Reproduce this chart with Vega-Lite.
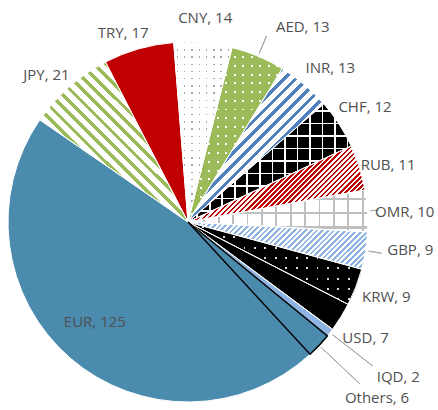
{
"$schema":"https://vega.github.io/schema/vega-lite/v6.json",
"width":360,"height":360,
"autosize":{"type":"none"},
"padding":{"left":8,"top":42,"right":70,"bottom":8},
"background":"white",
"config":{"view":{"stroke":null}},
"data":{"values":[
{"currency":"EUR","value":125},{"currency":"JPY","value":21},{"currency":"TRY","value":17},{"currency":"CNY","value":14},{"currency":"AED","value":13},{"currency":"INR","value":13},{"currency":"CHF","value":12},{"currency":"RUB","value":11},{"currency":"OMR","value":10},{"currency":"GBP","value":9},{"currency":"KRW","value":9},{"currency":"USD","value":7},{"currency":"IQD","value":2},{"currency":"Others","value":6}
]},
"transform":[{"window":[{"op":"row_number","as":"idx"}]}],
"encoding":{
"theta":{"field":"value","type":"quantitative","stack":true,"scale":{"range":[2.3964,8.6796]}},
"order":{"field":"idx","type":"quantitative"},
"detail":{"field":"currency","type":"nominal"}
},
"layer":[
{"mark":{"type":"arc","radius":180,"strokeWidth":0},
"encoding":{"fill":{"condition":[
{"test":"datum.currency==='JPY'","value":{"gradient":"linear","x1":0,"y1":1,"x2":0.96,"y2":-0.037,"stops":[
{"offset":0,"color":"#9BBB59"},{"offset":0.016,"color":"#9BBB59"},{"offset":0.016,"color":"#FFFFFF"},{"offset":0.04,"color":"#FFFFFF"},
{"offset":0.04,"color":"#9BBB59"},{"offset":0.056,"color":"#9BBB59"},{"offset":0.056,"color":"#FFFFFF"},{"offset":0.08,"color":"#FFFFFF"},
{"offset":0.08,"color":"#9BBB59"},{"offset":0.096,"color":"#9BBB59"},{"offset":0.096,"color":"#FFFFFF"},{"offset":0.12,"color":"#FFFFFF"},
{"offset":0.12,"color":"#9BBB59"},{"offset":0.136,"color":"#9BBB59"},{"offset":0.136,"color":"#FFFFFF"},{"offset":0.16,"color":"#FFFFFF"},
{"offset":0.16,"color":"#9BBB59"},{"offset":0.176,"color":"#9BBB59"},{"offset":0.176,"color":"#FFFFFF"},{"offset":0.2,"color":"#FFFFFF"},
{"offset":0.2,"color":"#9BBB59"},{"offset":0.216,"color":"#9BBB59"},{"offset":0.216,"color":"#FFFFFF"},{"offset":0.24,"color":"#FFFFFF"},
{"offset":0.24,"color":"#9BBB59"},{"offset":0.256,"color":"#9BBB59"},{"offset":0.256,"color":"#FFFFFF"},{"offset":0.28,"color":"#FFFFFF"},
{"offset":0.28,"color":"#9BBB59"},{"offset":0.296,"color":"#9BBB59"},{"offset":0.296,"color":"#FFFFFF"},{"offset":0.32,"color":"#FFFFFF"},
{"offset":0.32,"color":"#9BBB59"},{"offset":0.336,"color":"#9BBB59"},{"offset":0.336,"color":"#FFFFFF"},{"offset":0.36,"color":"#FFFFFF"},
{"offset":0.36,"color":"#9BBB59"},{"offset":0.376,"color":"#9BBB59"},{"offset":0.376,"color":"#FFFFFF"},{"offset":0.4,"color":"#FFFFFF"},
{"offset":0.4,"color":"#9BBB59"},{"offset":0.416,"color":"#9BBB59"},{"offset":0.416,"color":"#FFFFFF"},{"offset":0.44,"color":"#FFFFFF"},
{"offset":0.44,"color":"#9BBB59"},{"offset":0.456,"color":"#9BBB59"},{"offset":0.456,"color":"#FFFFFF"},{"offset":0.48,"color":"#FFFFFF"},
{"offset":0.48,"color":"#9BBB59"},{"offset":0.496,"color":"#9BBB59"},{"offset":0.496,"color":"#FFFFFF"},{"offset":0.52,"color":"#FFFFFF"},
{"offset":0.52,"color":"#9BBB59"},{"offset":0.536,"color":"#9BBB59"},{"offset":0.536,"color":"#FFFFFF"},{"offset":0.56,"color":"#FFFFFF"},
{"offset":0.56,"color":"#9BBB59"},{"offset":0.576,"color":"#9BBB59"},{"offset":0.576,"color":"#FFFFFF"},{"offset":0.6,"color":"#FFFFFF"},
{"offset":0.6,"color":"#9BBB59"},{"offset":0.616,"color":"#9BBB59"},{"offset":0.616,"color":"#FFFFFF"},{"offset":0.64,"color":"#FFFFFF"},
{"offset":0.64,"color":"#9BBB59"},{"offset":0.656,"color":"#9BBB59"},{"offset":0.656,"color":"#FFFFFF"},{"offset":0.68,"color":"#FFFFFF"},
{"offset":0.68,"color":"#9BBB59"},{"offset":0.696,"color":"#9BBB59"},{"offset":0.696,"color":"#FFFFFF"},{"offset":0.72,"color":"#FFFFFF"},
{"offset":0.72,"color":"#9BBB59"},{"offset":0.736,"color":"#9BBB59"},{"offset":0.736,"color":"#FFFFFF"},{"offset":0.76,"color":"#FFFFFF"},
{"offset":0.76,"color":"#9BBB59"},{"offset":0.776,"color":"#9BBB59"},{"offset":0.776,"color":"#FFFFFF"},{"offset":0.8,"color":"#FFFFFF"},
{"offset":0.8,"color":"#9BBB59"},{"offset":0.816,"color":"#9BBB59"},{"offset":0.816,"color":"#FFFFFF"},{"offset":0.84,"color":"#FFFFFF"},
{"offset":0.84,"color":"#9BBB59"},{"offset":0.856,"color":"#9BBB59"},{"offset":0.856,"color":"#FFFFFF"},{"offset":0.88,"color":"#FFFFFF"},
{"offset":0.88,"color":"#9BBB59"},{"offset":0.896,"color":"#9BBB59"},{"offset":0.896,"color":"#FFFFFF"},{"offset":0.92,"color":"#FFFFFF"},
{"offset":0.92,"color":"#9BBB59"},{"offset":0.936,"color":"#9BBB59"},{"offset":0.936,"color":"#FFFFFF"},{"offset":0.96,"color":"#FFFFFF"},
{"offset":0.96,"color":"#9BBB59"},{"offset":0.976,"color":"#9BBB59"},{"offset":0.976,"color":"#FFFFFF"},{"offset":1,"color":"#FFFFFF"}
]}},
{"test":"datum.currency==='TRY'","value":"#C00000"},
{"test":"datum.currency==='CNY'","value":{"gradient":"linear","x1":0,"y1":0,"x2":0,"y2":1,"stops":[
{"offset":0,"color":"#A6A6A6"},{"offset":0.008,"color":"#A6A6A6"},{"offset":0.008,"color":"#FFFFFF"},{"offset":0.04,"color":"#FFFFFF"},
{"offset":0.04,"color":"#A6A6A6"},{"offset":0.048,"color":"#A6A6A6"},{"offset":0.048,"color":"#FFFFFF"},{"offset":0.08,"color":"#FFFFFF"},
{"offset":0.08,"color":"#A6A6A6"},{"offset":0.088,"color":"#A6A6A6"},{"offset":0.088,"color":"#FFFFFF"},{"offset":0.12,"color":"#FFFFFF"},
{"offset":0.12,"color":"#A6A6A6"},{"offset":0.128,"color":"#A6A6A6"},{"offset":0.128,"color":"#FFFFFF"},{"offset":0.16,"color":"#FFFFFF"},
{"offset":0.16,"color":"#A6A6A6"},{"offset":0.168,"color":"#A6A6A6"},{"offset":0.168,"color":"#FFFFFF"},{"offset":0.2,"color":"#FFFFFF"},
{"offset":0.2,"color":"#A6A6A6"},{"offset":0.208,"color":"#A6A6A6"},{"offset":0.208,"color":"#FFFFFF"},{"offset":0.24,"color":"#FFFFFF"},
{"offset":0.24,"color":"#A6A6A6"},{"offset":0.248,"color":"#A6A6A6"},{"offset":0.248,"color":"#FFFFFF"},{"offset":0.28,"color":"#FFFFFF"},
{"offset":0.28,"color":"#A6A6A6"},{"offset":0.288,"color":"#A6A6A6"},{"offset":0.288,"color":"#FFFFFF"},{"offset":0.32,"color":"#FFFFFF"},
{"offset":0.32,"color":"#A6A6A6"},{"offset":0.328,"color":"#A6A6A6"},{"offset":0.328,"color":"#FFFFFF"},{"offset":0.36,"color":"#FFFFFF"},
{"offset":0.36,"color":"#A6A6A6"},{"offset":0.368,"color":"#A6A6A6"},{"offset":0.368,"color":"#FFFFFF"},{"offset":0.4,"color":"#FFFFFF"},
{"offset":0.4,"color":"#A6A6A6"},{"offset":0.408,"color":"#A6A6A6"},{"offset":0.408,"color":"#FFFFFF"},{"offset":0.44,"color":"#FFFFFF"},
{"offset":0.44,"color":"#A6A6A6"},{"offset":0.448,"color":"#A6A6A6"},{"offset":0.448,"color":"#FFFFFF"},{"offset":0.48,"color":"#FFFFFF"},
{"offset":0.48,"color":"#A6A6A6"},{"offset":0.488,"color":"#A6A6A6"},{"offset":0.488,"color":"#FFFFFF"},{"offset":0.52,"color":"#FFFFFF"},
{"offset":0.52,"color":"#A6A6A6"},{"offset":0.528,"color":"#A6A6A6"},{"offset":0.528,"color":"#FFFFFF"},{"offset":0.56,"color":"#FFFFFF"},
{"offset":0.56,"color":"#A6A6A6"},{"offset":0.568,"color":"#A6A6A6"},{"offset":0.568,"color":"#FFFFFF"},{"offset":0.6,"color":"#FFFFFF"},
{"offset":0.6,"color":"#A6A6A6"},{"offset":0.608,"color":"#A6A6A6"},{"offset":0.608,"color":"#FFFFFF"},{"offset":0.64,"color":"#FFFFFF"},
{"offset":0.64,"color":"#A6A6A6"},{"offset":0.648,"color":"#A6A6A6"},{"offset":0.648,"color":"#FFFFFF"},{"offset":0.68,"color":"#FFFFFF"},
{"offset":0.68,"color":"#A6A6A6"},{"offset":0.688,"color":"#A6A6A6"},{"offset":0.688,"color":"#FFFFFF"},{"offset":0.72,"color":"#FFFFFF"},
{"offset":0.72,"color":"#A6A6A6"},{"offset":0.728,"color":"#A6A6A6"},{"offset":0.728,"color":"#FFFFFF"},{"offset":0.76,"color":"#FFFFFF"},
{"offset":0.76,"color":"#A6A6A6"},{"offset":0.768,"color":"#A6A6A6"},{"offset":0.768,"color":"#FFFFFF"},{"offset":0.8,"color":"#FFFFFF"},
{"offset":0.8,"color":"#A6A6A6"},{"offset":0.808,"color":"#A6A6A6"},{"offset":0.808,"color":"#FFFFFF"},{"offset":0.84,"color":"#FFFFFF"},
{"offset":0.84,"color":"#A6A6A6"},{"offset":0.848,"color":"#A6A6A6"},{"offset":0.848,"color":"#FFFFFF"},{"offset":0.88,"color":"#FFFFFF"},
{"offset":0.88,"color":"#A6A6A6"},{"offset":0.888,"color":"#A6A6A6"},{"offset":0.888,"color":"#FFFFFF"},{"offset":0.92,"color":"#FFFFFF"},
{"offset":0.92,"color":"#A6A6A6"},{"offset":0.928,"color":"#A6A6A6"},{"offset":0.928,"color":"#FFFFFF"},{"offset":0.96,"color":"#FFFFFF"},
{"offset":0.96,"color":"#A6A6A6"},{"offset":0.968,"color":"#A6A6A6"},{"offset":0.968,"color":"#FFFFFF"},{"offset":1,"color":"#FFFFFF"}
]}},
{"test":"datum.currency==='AED'","value":{"gradient":"linear","x1":0,"y1":0,"x2":0,"y2":1,"stops":[
{"offset":0,"color":"#FFFFFF"},{"offset":0.011,"color":"#FFFFFF"},{"offset":0.011,"color":"#9BBB59"},{"offset":0.05,"color":"#9BBB59"},
{"offset":0.05,"color":"#FFFFFF"},{"offset":0.061,"color":"#FFFFFF"},{"offset":0.061,"color":"#9BBB59"},{"offset":0.1,"color":"#9BBB59"},
{"offset":0.1,"color":"#FFFFFF"},{"offset":0.111,"color":"#FFFFFF"},{"offset":0.111,"color":"#9BBB59"},{"offset":0.15,"color":"#9BBB59"},
{"offset":0.15,"color":"#FFFFFF"},{"offset":0.161,"color":"#FFFFFF"},{"offset":0.161,"color":"#9BBB59"},{"offset":0.2,"color":"#9BBB59"},
{"offset":0.2,"color":"#FFFFFF"},{"offset":0.211,"color":"#FFFFFF"},{"offset":0.211,"color":"#9BBB59"},{"offset":0.25,"color":"#9BBB59"},
{"offset":0.25,"color":"#FFFFFF"},{"offset":0.261,"color":"#FFFFFF"},{"offset":0.261,"color":"#9BBB59"},{"offset":0.3,"color":"#9BBB59"},
{"offset":0.3,"color":"#FFFFFF"},{"offset":0.311,"color":"#FFFFFF"},{"offset":0.311,"color":"#9BBB59"},{"offset":0.35,"color":"#9BBB59"},
{"offset":0.35,"color":"#FFFFFF"},{"offset":0.361,"color":"#FFFFFF"},{"offset":0.361,"color":"#9BBB59"},{"offset":0.4,"color":"#9BBB59"},
{"offset":0.4,"color":"#FFFFFF"},{"offset":0.411,"color":"#FFFFFF"},{"offset":0.411,"color":"#9BBB59"},{"offset":0.45,"color":"#9BBB59"},
{"offset":0.45,"color":"#FFFFFF"},{"offset":0.461,"color":"#FFFFFF"},{"offset":0.461,"color":"#9BBB59"},{"offset":0.5,"color":"#9BBB59"},
{"offset":0.5,"color":"#FFFFFF"},{"offset":0.511,"color":"#FFFFFF"},{"offset":0.511,"color":"#9BBB59"},{"offset":0.55,"color":"#9BBB59"},
{"offset":0.55,"color":"#FFFFFF"},{"offset":0.561,"color":"#FFFFFF"},{"offset":0.561,"color":"#9BBB59"},{"offset":0.6,"color":"#9BBB59"},
{"offset":0.6,"color":"#FFFFFF"},{"offset":0.611,"color":"#FFFFFF"},{"offset":0.611,"color":"#9BBB59"},{"offset":0.65,"color":"#9BBB59"},
{"offset":0.65,"color":"#FFFFFF"},{"offset":0.661,"color":"#FFFFFF"},{"offset":0.661,"color":"#9BBB59"},{"offset":0.7,"color":"#9BBB59"},
{"offset":0.7,"color":"#FFFFFF"},{"offset":0.711,"color":"#FFFFFF"},{"offset":0.711,"color":"#9BBB59"},{"offset":0.75,"color":"#9BBB59"},
{"offset":0.75,"color":"#FFFFFF"},{"offset":0.761,"color":"#FFFFFF"},{"offset":0.761,"color":"#9BBB59"},{"offset":0.8,"color":"#9BBB59"},
{"offset":0.8,"color":"#FFFFFF"},{"offset":0.811,"color":"#FFFFFF"},{"offset":0.811,"color":"#9BBB59"},{"offset":0.85,"color":"#9BBB59"},
{"offset":0.85,"color":"#FFFFFF"},{"offset":0.861,"color":"#FFFFFF"},{"offset":0.861,"color":"#9BBB59"},{"offset":0.9,"color":"#9BBB59"},
{"offset":0.9,"color":"#FFFFFF"},{"offset":0.911,"color":"#FFFFFF"},{"offset":0.911,"color":"#9BBB59"},{"offset":0.95,"color":"#9BBB59"},
{"offset":0.95,"color":"#FFFFFF"},{"offset":0.961,"color":"#FFFFFF"},{"offset":0.961,"color":"#9BBB59"},{"offset":1,"color":"#9BBB59"}
]}},
{"test":"datum.currency==='INR'","value":{"gradient":"linear","x1":0,"y1":0,"x2":0.936,"y2":1.057,"stops":[
{"offset":0,"color":"#4F81BD"},{"offset":0.016,"color":"#4F81BD"},{"offset":0.016,"color":"#FFFFFF"},{"offset":0.04,"color":"#FFFFFF"},
{"offset":0.04,"color":"#4F81BD"},{"offset":0.056,"color":"#4F81BD"},{"offset":0.056,"color":"#FFFFFF"},{"offset":0.08,"color":"#FFFFFF"},
{"offset":0.08,"color":"#4F81BD"},{"offset":0.096,"color":"#4F81BD"},{"offset":0.096,"color":"#FFFFFF"},{"offset":0.12,"color":"#FFFFFF"},
{"offset":0.12,"color":"#4F81BD"},{"offset":0.136,"color":"#4F81BD"},{"offset":0.136,"color":"#FFFFFF"},{"offset":0.16,"color":"#FFFFFF"},
{"offset":0.16,"color":"#4F81BD"},{"offset":0.176,"color":"#4F81BD"},{"offset":0.176,"color":"#FFFFFF"},{"offset":0.2,"color":"#FFFFFF"},
{"offset":0.2,"color":"#4F81BD"},{"offset":0.216,"color":"#4F81BD"},{"offset":0.216,"color":"#FFFFFF"},{"offset":0.24,"color":"#FFFFFF"},
{"offset":0.24,"color":"#4F81BD"},{"offset":0.256,"color":"#4F81BD"},{"offset":0.256,"color":"#FFFFFF"},{"offset":0.28,"color":"#FFFFFF"},
{"offset":0.28,"color":"#4F81BD"},{"offset":0.296,"color":"#4F81BD"},{"offset":0.296,"color":"#FFFFFF"},{"offset":0.32,"color":"#FFFFFF"},
{"offset":0.32,"color":"#4F81BD"},{"offset":0.336,"color":"#4F81BD"},{"offset":0.336,"color":"#FFFFFF"},{"offset":0.36,"color":"#FFFFFF"},
{"offset":0.36,"color":"#4F81BD"},{"offset":0.376,"color":"#4F81BD"},{"offset":0.376,"color":"#FFFFFF"},{"offset":0.4,"color":"#FFFFFF"},
{"offset":0.4,"color":"#4F81BD"},{"offset":0.416,"color":"#4F81BD"},{"offset":0.416,"color":"#FFFFFF"},{"offset":0.44,"color":"#FFFFFF"},
{"offset":0.44,"color":"#4F81BD"},{"offset":0.456,"color":"#4F81BD"},{"offset":0.456,"color":"#FFFFFF"},{"offset":0.48,"color":"#FFFFFF"},
{"offset":0.48,"color":"#4F81BD"},{"offset":0.496,"color":"#4F81BD"},{"offset":0.496,"color":"#FFFFFF"},{"offset":0.52,"color":"#FFFFFF"},
{"offset":0.52,"color":"#4F81BD"},{"offset":0.536,"color":"#4F81BD"},{"offset":0.536,"color":"#FFFFFF"},{"offset":0.56,"color":"#FFFFFF"},
{"offset":0.56,"color":"#4F81BD"},{"offset":0.576,"color":"#4F81BD"},{"offset":0.576,"color":"#FFFFFF"},{"offset":0.6,"color":"#FFFFFF"},
{"offset":0.6,"color":"#4F81BD"},{"offset":0.616,"color":"#4F81BD"},{"offset":0.616,"color":"#FFFFFF"},{"offset":0.64,"color":"#FFFFFF"},
{"offset":0.64,"color":"#4F81BD"},{"offset":0.656,"color":"#4F81BD"},{"offset":0.656,"color":"#FFFFFF"},{"offset":0.68,"color":"#FFFFFF"},
{"offset":0.68,"color":"#4F81BD"},{"offset":0.696,"color":"#4F81BD"},{"offset":0.696,"color":"#FFFFFF"},{"offset":0.72,"color":"#FFFFFF"},
{"offset":0.72,"color":"#4F81BD"},{"offset":0.736,"color":"#4F81BD"},{"offset":0.736,"color":"#FFFFFF"},{"offset":0.76,"color":"#FFFFFF"},
{"offset":0.76,"color":"#4F81BD"},{"offset":0.776,"color":"#4F81BD"},{"offset":0.776,"color":"#FFFFFF"},{"offset":0.8,"color":"#FFFFFF"},
{"offset":0.8,"color":"#4F81BD"},{"offset":0.816,"color":"#4F81BD"},{"offset":0.816,"color":"#FFFFFF"},{"offset":0.84,"color":"#FFFFFF"},
{"offset":0.84,"color":"#4F81BD"},{"offset":0.856,"color":"#4F81BD"},{"offset":0.856,"color":"#FFFFFF"},{"offset":0.88,"color":"#FFFFFF"},
{"offset":0.88,"color":"#4F81BD"},{"offset":0.896,"color":"#4F81BD"},{"offset":0.896,"color":"#FFFFFF"},{"offset":0.92,"color":"#FFFFFF"},
{"offset":0.92,"color":"#4F81BD"},{"offset":0.936,"color":"#4F81BD"},{"offset":0.936,"color":"#FFFFFF"},{"offset":0.96,"color":"#FFFFFF"},
{"offset":0.96,"color":"#4F81BD"},{"offset":0.976,"color":"#4F81BD"},{"offset":0.976,"color":"#FFFFFF"},{"offset":1,"color":"#FFFFFF"}
]}},
{"test":"datum.currency==='CHF'","value":{"gradient":"linear","x1":0,"y1":0,"x2":0,"y2":1,"stops":[
{"offset":0,"color":"#000000"},{"offset":0.053,"color":"#000000"},{"offset":0.053,"color":"#FFFFFF"},{"offset":0.067,"color":"#FFFFFF"},
{"offset":0.067,"color":"#000000"},{"offset":0.159,"color":"#000000"},{"offset":0.159,"color":"#FFFFFF"},{"offset":0.173,"color":"#FFFFFF"},
{"offset":0.173,"color":"#000000"},{"offset":0.265,"color":"#000000"},{"offset":0.265,"color":"#FFFFFF"},{"offset":0.279,"color":"#FFFFFF"},
{"offset":0.279,"color":"#000000"},{"offset":0.371,"color":"#000000"},{"offset":0.371,"color":"#FFFFFF"},{"offset":0.385,"color":"#FFFFFF"},
{"offset":0.385,"color":"#000000"},{"offset":0.477,"color":"#000000"},{"offset":0.477,"color":"#FFFFFF"},{"offset":0.491,"color":"#FFFFFF"},
{"offset":0.491,"color":"#000000"},{"offset":0.583,"color":"#000000"},{"offset":0.583,"color":"#FFFFFF"},{"offset":0.597,"color":"#FFFFFF"},
{"offset":0.597,"color":"#000000"},{"offset":0.689,"color":"#000000"},{"offset":0.689,"color":"#FFFFFF"},{"offset":0.703,"color":"#FFFFFF"},
{"offset":0.703,"color":"#000000"},{"offset":0.795,"color":"#000000"},{"offset":0.795,"color":"#FFFFFF"},{"offset":0.809,"color":"#FFFFFF"},
{"offset":0.809,"color":"#000000"},{"offset":0.901,"color":"#000000"},{"offset":0.901,"color":"#FFFFFF"},{"offset":0.915,"color":"#FFFFFF"},
{"offset":0.915,"color":"#000000"},{"offset":1,"color":"#000000"}
]}},
{"test":"datum.currency==='RUB'","value":{"gradient":"linear","x1":0,"y1":0,"x2":1.207,"y2":0.518,"stops":[
{"offset":0,"color":"#C00000"},{"offset":0.01,"color":"#C00000"},{"offset":0.01,"color":"#FFFFFF"},{"offset":0.02,"color":"#FFFFFF"},
{"offset":0.02,"color":"#C00000"},{"offset":0.03,"color":"#C00000"},{"offset":0.03,"color":"#FFFFFF"},{"offset":0.04,"color":"#FFFFFF"},
{"offset":0.04,"color":"#C00000"},{"offset":0.05,"color":"#C00000"},{"offset":0.05,"color":"#FFFFFF"},{"offset":0.06,"color":"#FFFFFF"},
{"offset":0.06,"color":"#C00000"},{"offset":0.07,"color":"#C00000"},{"offset":0.07,"color":"#FFFFFF"},{"offset":0.08,"color":"#FFFFFF"},
{"offset":0.08,"color":"#C00000"},{"offset":0.09,"color":"#C00000"},{"offset":0.09,"color":"#FFFFFF"},{"offset":0.1,"color":"#FFFFFF"},
{"offset":0.1,"color":"#C00000"},{"offset":0.11,"color":"#C00000"},{"offset":0.11,"color":"#FFFFFF"},{"offset":0.12,"color":"#FFFFFF"},
{"offset":0.12,"color":"#C00000"},{"offset":0.13,"color":"#C00000"},{"offset":0.13,"color":"#FFFFFF"},{"offset":0.14,"color":"#FFFFFF"},
{"offset":0.14,"color":"#C00000"},{"offset":0.15,"color":"#C00000"},{"offset":0.15,"color":"#FFFFFF"},{"offset":0.16,"color":"#FFFFFF"},
{"offset":0.16,"color":"#C00000"},{"offset":0.17,"color":"#C00000"},{"offset":0.17,"color":"#FFFFFF"},{"offset":0.18,"color":"#FFFFFF"},
{"offset":0.18,"color":"#C00000"},{"offset":0.19,"color":"#C00000"},{"offset":0.19,"color":"#FFFFFF"},{"offset":0.2,"color":"#FFFFFF"},
{"offset":0.2,"color":"#C00000"},{"offset":0.21,"color":"#C00000"},{"offset":0.21,"color":"#FFFFFF"},{"offset":0.22,"color":"#FFFFFF"},
{"offset":0.22,"color":"#C00000"},{"offset":0.23,"color":"#C00000"},{"offset":0.23,"color":"#FFFFFF"},{"offset":0.24,"color":"#FFFFFF"},
{"offset":0.24,"color":"#C00000"},{"offset":0.25,"color":"#C00000"},{"offset":0.25,"color":"#FFFFFF"},{"offset":0.26,"color":"#FFFFFF"},
{"offset":0.26,"color":"#C00000"},{"offset":0.27,"color":"#C00000"},{"offset":0.27,"color":"#FFFFFF"},{"offset":0.28,"color":"#FFFFFF"},
{"offset":0.28,"color":"#C00000"},{"offset":0.29,"color":"#C00000"},{"offset":0.29,"color":"#FFFFFF"},{"offset":0.3,"color":"#FFFFFF"},
{"offset":0.3,"color":"#C00000"},{"offset":0.31,"color":"#C00000"},{"offset":0.31,"color":"#FFFFFF"},{"offset":0.32,"color":"#FFFFFF"},
{"offset":0.32,"color":"#C00000"},{"offset":0.33,"color":"#C00000"},{"offset":0.33,"color":"#FFFFFF"},{"offset":0.34,"color":"#FFFFFF"},
{"offset":0.34,"color":"#C00000"},{"offset":0.35,"color":"#C00000"},{"offset":0.35,"color":"#FFFFFF"},{"offset":0.36,"color":"#FFFFFF"},
{"offset":0.36,"color":"#C00000"},{"offset":0.37,"color":"#C00000"},{"offset":0.37,"color":"#FFFFFF"},{"offset":0.38,"color":"#FFFFFF"},
{"offset":0.38,"color":"#C00000"},{"offset":0.39,"color":"#C00000"},{"offset":0.39,"color":"#FFFFFF"},{"offset":0.4,"color":"#FFFFFF"},
{"offset":0.4,"color":"#C00000"},{"offset":0.41,"color":"#C00000"},{"offset":0.41,"color":"#FFFFFF"},{"offset":0.42,"color":"#FFFFFF"},
{"offset":0.42,"color":"#C00000"},{"offset":0.43,"color":"#C00000"},{"offset":0.43,"color":"#FFFFFF"},{"offset":0.44,"color":"#FFFFFF"},
{"offset":0.44,"color":"#C00000"},{"offset":0.45,"color":"#C00000"},{"offset":0.45,"color":"#FFFFFF"},{"offset":0.46,"color":"#FFFFFF"},
{"offset":0.46,"color":"#C00000"},{"offset":0.47,"color":"#C00000"},{"offset":0.47,"color":"#FFFFFF"},{"offset":0.48,"color":"#FFFFFF"},
{"offset":0.48,"color":"#C00000"},{"offset":0.49,"color":"#C00000"},{"offset":0.49,"color":"#FFFFFF"},{"offset":0.5,"color":"#FFFFFF"},
{"offset":0.5,"color":"#C00000"},{"offset":0.51,"color":"#C00000"},{"offset":0.51,"color":"#FFFFFF"},{"offset":0.52,"color":"#FFFFFF"},
{"offset":0.52,"color":"#C00000"},{"offset":0.53,"color":"#C00000"},{"offset":0.53,"color":"#FFFFFF"},{"offset":0.54,"color":"#FFFFFF"},
{"offset":0.54,"color":"#C00000"},{"offset":0.55,"color":"#C00000"},{"offset":0.55,"color":"#FFFFFF"},{"offset":0.56,"color":"#FFFFFF"},
{"offset":0.56,"color":"#C00000"},{"offset":0.57,"color":"#C00000"},{"offset":0.57,"color":"#FFFFFF"},{"offset":0.58,"color":"#FFFFFF"},
{"offset":0.58,"color":"#C00000"},{"offset":0.59,"color":"#C00000"},{"offset":0.59,"color":"#FFFFFF"},{"offset":0.6,"color":"#FFFFFF"},
{"offset":0.6,"color":"#C00000"},{"offset":0.61,"color":"#C00000"},{"offset":0.61,"color":"#FFFFFF"},{"offset":0.62,"color":"#FFFFFF"},
{"offset":0.62,"color":"#C00000"},{"offset":0.63,"color":"#C00000"},{"offset":0.63,"color":"#FFFFFF"},{"offset":0.64,"color":"#FFFFFF"},
{"offset":0.64,"color":"#C00000"},{"offset":0.65,"color":"#C00000"},{"offset":0.65,"color":"#FFFFFF"},{"offset":0.66,"color":"#FFFFFF"},
{"offset":0.66,"color":"#C00000"},{"offset":0.67,"color":"#C00000"},{"offset":0.67,"color":"#FFFFFF"},{"offset":0.68,"color":"#FFFFFF"},
{"offset":0.68,"color":"#C00000"},{"offset":0.69,"color":"#C00000"},{"offset":0.69,"color":"#FFFFFF"},{"offset":0.7,"color":"#FFFFFF"},
{"offset":0.7,"color":"#C00000"},{"offset":0.71,"color":"#C00000"},{"offset":0.71,"color":"#FFFFFF"},{"offset":0.72,"color":"#FFFFFF"},
{"offset":0.72,"color":"#C00000"},{"offset":0.73,"color":"#C00000"},{"offset":0.73,"color":"#FFFFFF"},{"offset":0.74,"color":"#FFFFFF"},
{"offset":0.74,"color":"#C00000"},{"offset":0.75,"color":"#C00000"},{"offset":0.75,"color":"#FFFFFF"},{"offset":0.76,"color":"#FFFFFF"},
{"offset":0.76,"color":"#C00000"},{"offset":0.77,"color":"#C00000"},{"offset":0.77,"color":"#FFFFFF"},{"offset":0.78,"color":"#FFFFFF"},
{"offset":0.78,"color":"#C00000"},{"offset":0.79,"color":"#C00000"},{"offset":0.79,"color":"#FFFFFF"},{"offset":0.8,"color":"#FFFFFF"},
{"offset":0.8,"color":"#C00000"},{"offset":0.81,"color":"#C00000"},{"offset":0.81,"color":"#FFFFFF"},{"offset":0.82,"color":"#FFFFFF"},
{"offset":0.82,"color":"#C00000"},{"offset":0.83,"color":"#C00000"},{"offset":0.83,"color":"#FFFFFF"},{"offset":0.84,"color":"#FFFFFF"},
{"offset":0.84,"color":"#C00000"},{"offset":0.85,"color":"#C00000"},{"offset":0.85,"color":"#FFFFFF"},{"offset":0.86,"color":"#FFFFFF"},
{"offset":0.86,"color":"#C00000"},{"offset":0.87,"color":"#C00000"},{"offset":0.87,"color":"#FFFFFF"},{"offset":0.88,"color":"#FFFFFF"},
{"offset":0.88,"color":"#C00000"},{"offset":0.89,"color":"#C00000"},{"offset":0.89,"color":"#FFFFFF"},{"offset":0.9,"color":"#FFFFFF"},
{"offset":0.9,"color":"#C00000"},{"offset":0.91,"color":"#C00000"},{"offset":0.91,"color":"#FFFFFF"},{"offset":0.92,"color":"#FFFFFF"},
{"offset":0.92,"color":"#C00000"},{"offset":0.93,"color":"#C00000"},{"offset":0.93,"color":"#FFFFFF"},{"offset":0.94,"color":"#FFFFFF"},
{"offset":0.94,"color":"#C00000"},{"offset":0.95,"color":"#C00000"},{"offset":0.95,"color":"#FFFFFF"},{"offset":0.96,"color":"#FFFFFF"},
{"offset":0.96,"color":"#C00000"},{"offset":0.97,"color":"#C00000"},{"offset":0.97,"color":"#FFFFFF"},{"offset":0.98,"color":"#FFFFFF"},
{"offset":0.98,"color":"#C00000"},{"offset":0.99,"color":"#C00000"},{"offset":0.99,"color":"#FFFFFF"},{"offset":1,"color":"#FFFFFF"}
]}},
{"test":"datum.currency==='OMR'","value":{"gradient":"linear","x1":0,"y1":0,"x2":0,"y2":1,"stops":[
{"offset":0,"color":"#FFFFFF"},{"offset":0.18,"color":"#FFFFFF"},{"offset":0.18,"color":"#BFBFBF"},{"offset":0.23,"color":"#BFBFBF"},
{"offset":0.23,"color":"#FFFFFF"},{"offset":0.53,"color":"#FFFFFF"},{"offset":0.53,"color":"#BFBFBF"},{"offset":0.58,"color":"#BFBFBF"},
{"offset":0.58,"color":"#FFFFFF"},{"offset":0.87,"color":"#FFFFFF"},{"offset":0.87,"color":"#BFBFBF"},{"offset":0.92,"color":"#BFBFBF"},
{"offset":0.92,"color":"#FFFFFF"},{"offset":1,"color":"#FFFFFF"}
]}},
{"test":"datum.currency==='GBP'","value":{"gradient":"linear","x1":0,"y1":0,"x2":1.181,"y2":0.31,"stops":[
{"offset":0,"color":"#8DB3E2"},{"offset":0.0125,"color":"#8DB3E2"},{"offset":0.0125,"color":"#FFFFFF"},{"offset":0.025,"color":"#FFFFFF"},
{"offset":0.025,"color":"#8DB3E2"},{"offset":0.0375,"color":"#8DB3E2"},{"offset":0.0375,"color":"#FFFFFF"},{"offset":0.05,"color":"#FFFFFF"},
{"offset":0.05,"color":"#8DB3E2"},{"offset":0.0625,"color":"#8DB3E2"},{"offset":0.0625,"color":"#FFFFFF"},{"offset":0.075,"color":"#FFFFFF"},
{"offset":0.075,"color":"#8DB3E2"},{"offset":0.0875,"color":"#8DB3E2"},{"offset":0.0875,"color":"#FFFFFF"},{"offset":0.1,"color":"#FFFFFF"},
{"offset":0.1,"color":"#8DB3E2"},{"offset":0.1125,"color":"#8DB3E2"},{"offset":0.1125,"color":"#FFFFFF"},{"offset":0.125,"color":"#FFFFFF"},
{"offset":0.125,"color":"#8DB3E2"},{"offset":0.1375,"color":"#8DB3E2"},{"offset":0.1375,"color":"#FFFFFF"},{"offset":0.15,"color":"#FFFFFF"},
{"offset":0.15,"color":"#8DB3E2"},{"offset":0.1625,"color":"#8DB3E2"},{"offset":0.1625,"color":"#FFFFFF"},{"offset":0.175,"color":"#FFFFFF"},
{"offset":0.175,"color":"#8DB3E2"},{"offset":0.1875,"color":"#8DB3E2"},{"offset":0.1875,"color":"#FFFFFF"},{"offset":0.2,"color":"#FFFFFF"},
{"offset":0.2,"color":"#8DB3E2"},{"offset":0.2125,"color":"#8DB3E2"},{"offset":0.2125,"color":"#FFFFFF"},{"offset":0.225,"color":"#FFFFFF"},
{"offset":0.225,"color":"#8DB3E2"},{"offset":0.2375,"color":"#8DB3E2"},{"offset":0.2375,"color":"#FFFFFF"},{"offset":0.25,"color":"#FFFFFF"},
{"offset":0.25,"color":"#8DB3E2"},{"offset":0.2625,"color":"#8DB3E2"},{"offset":0.2625,"color":"#FFFFFF"},{"offset":0.275,"color":"#FFFFFF"},
{"offset":0.275,"color":"#8DB3E2"},{"offset":0.2875,"color":"#8DB3E2"},{"offset":0.2875,"color":"#FFFFFF"},{"offset":0.3,"color":"#FFFFFF"},
{"offset":0.3,"color":"#8DB3E2"},{"offset":0.3125,"color":"#8DB3E2"},{"offset":0.3125,"color":"#FFFFFF"},{"offset":0.325,"color":"#FFFFFF"},
{"offset":0.325,"color":"#8DB3E2"},{"offset":0.3375,"color":"#8DB3E2"},{"offset":0.3375,"color":"#FFFFFF"},{"offset":0.35,"color":"#FFFFFF"},
{"offset":0.35,"color":"#8DB3E2"},{"offset":0.3625,"color":"#8DB3E2"},{"offset":0.3625,"color":"#FFFFFF"},{"offset":0.375,"color":"#FFFFFF"},
{"offset":0.375,"color":"#8DB3E2"},{"offset":0.3875,"color":"#8DB3E2"},{"offset":0.3875,"color":"#FFFFFF"},{"offset":0.4,"color":"#FFFFFF"},
{"offset":0.4,"color":"#8DB3E2"},{"offset":0.4125,"color":"#8DB3E2"},{"offset":0.4125,"color":"#FFFFFF"},{"offset":0.425,"color":"#FFFFFF"},
{"offset":0.425,"color":"#8DB3E2"},{"offset":0.4375,"color":"#8DB3E2"},{"offset":0.4375,"color":"#FFFFFF"},{"offset":0.45,"color":"#FFFFFF"},
{"offset":0.45,"color":"#8DB3E2"},{"offset":0.4625,"color":"#8DB3E2"},{"offset":0.4625,"color":"#FFFFFF"},{"offset":0.475,"color":"#FFFFFF"},
{"offset":0.475,"color":"#8DB3E2"},{"offset":0.4875,"color":"#8DB3E2"},{"offset":0.4875,"color":"#FFFFFF"},{"offset":0.5,"color":"#FFFFFF"},
{"offset":0.5,"color":"#8DB3E2"},{"offset":0.5125,"color":"#8DB3E2"},{"offset":0.5125,"color":"#FFFFFF"},{"offset":0.525,"color":"#FFFFFF"},
{"offset":0.525,"color":"#8DB3E2"},{"offset":0.5375,"color":"#8DB3E2"},{"offset":0.5375,"color":"#FFFFFF"},{"offset":0.55,"color":"#FFFFFF"},
{"offset":0.55,"color":"#8DB3E2"},{"offset":0.5625,"color":"#8DB3E2"},{"offset":0.5625,"color":"#FFFFFF"},{"offset":0.575,"color":"#FFFFFF"},
{"offset":0.575,"color":"#8DB3E2"},{"offset":0.5875,"color":"#8DB3E2"},{"offset":0.5875,"color":"#FFFFFF"},{"offset":0.6,"color":"#FFFFFF"},
{"offset":0.6,"color":"#8DB3E2"},{"offset":0.6125,"color":"#8DB3E2"},{"offset":0.6125,"color":"#FFFFFF"},{"offset":0.625,"color":"#FFFFFF"},
{"offset":0.625,"color":"#8DB3E2"},{"offset":0.6375,"color":"#8DB3E2"},{"offset":0.6375,"color":"#FFFFFF"},{"offset":0.65,"color":"#FFFFFF"},
{"offset":0.65,"color":"#8DB3E2"},{"offset":0.6625,"color":"#8DB3E2"},{"offset":0.6625,"color":"#FFFFFF"},{"offset":0.675,"color":"#FFFFFF"},
{"offset":0.675,"color":"#8DB3E2"},{"offset":0.6875,"color":"#8DB3E2"},{"offset":0.6875,"color":"#FFFFFF"},{"offset":0.7,"color":"#FFFFFF"},
{"offset":0.7,"color":"#8DB3E2"},{"offset":0.7125,"color":"#8DB3E2"},{"offset":0.7125,"color":"#FFFFFF"},{"offset":0.725,"color":"#FFFFFF"},
{"offset":0.725,"color":"#8DB3E2"},{"offset":0.7375,"color":"#8DB3E2"},{"offset":0.7375,"color":"#FFFFFF"},{"offset":0.75,"color":"#FFFFFF"},
{"offset":0.75,"color":"#8DB3E2"},{"offset":0.7625,"color":"#8DB3E2"},{"offset":0.7625,"color":"#FFFFFF"},{"offset":0.775,"color":"#FFFFFF"},
{"offset":0.775,"color":"#8DB3E2"},{"offset":0.7875,"color":"#8DB3E2"},{"offset":0.7875,"color":"#FFFFFF"},{"offset":0.8,"color":"#FFFFFF"},
{"offset":0.8,"color":"#8DB3E2"},{"offset":0.8125,"color":"#8DB3E2"},{"offset":0.8125,"color":"#FFFFFF"},{"offset":0.825,"color":"#FFFFFF"},
{"offset":0.825,"color":"#8DB3E2"},{"offset":0.8375,"color":"#8DB3E2"},{"offset":0.8375,"color":"#FFFFFF"},{"offset":0.85,"color":"#FFFFFF"},
{"offset":0.85,"color":"#8DB3E2"},{"offset":0.8625,"color":"#8DB3E2"},{"offset":0.8625,"color":"#FFFFFF"},{"offset":0.875,"color":"#FFFFFF"},
{"offset":0.875,"color":"#8DB3E2"},{"offset":0.8875,"color":"#8DB3E2"},{"offset":0.8875,"color":"#FFFFFF"},{"offset":0.9,"color":"#FFFFFF"},
{"offset":0.9,"color":"#8DB3E2"},{"offset":0.9125,"color":"#8DB3E2"},{"offset":0.9125,"color":"#FFFFFF"},{"offset":0.925,"color":"#FFFFFF"},
{"offset":0.925,"color":"#8DB3E2"},{"offset":0.9375,"color":"#8DB3E2"},{"offset":0.9375,"color":"#FFFFFF"},{"offset":0.95,"color":"#FFFFFF"},
{"offset":0.95,"color":"#8DB3E2"},{"offset":0.9625,"color":"#8DB3E2"},{"offset":0.9625,"color":"#FFFFFF"},{"offset":0.975,"color":"#FFFFFF"},
{"offset":0.975,"color":"#8DB3E2"},{"offset":0.9875,"color":"#8DB3E2"},{"offset":0.9875,"color":"#FFFFFF"},{"offset":1,"color":"#FFFFFF"}
]}},
{"test":"datum.currency==='KRW'","value":{"gradient":"linear","x1":0,"y1":0,"x2":0,"y2":1,"stops":[
{"offset":0,"color":"#000000"},{"offset":0.05,"color":"#000000"},{"offset":0.05,"color":"#D9D9D9"},{"offset":0.074,"color":"#D9D9D9"},
{"offset":0.074,"color":"#000000"},{"offset":0.175,"color":"#000000"},{"offset":0.175,"color":"#D9D9D9"},{"offset":0.199,"color":"#D9D9D9"},
{"offset":0.199,"color":"#000000"},{"offset":0.3,"color":"#000000"},{"offset":0.3,"color":"#D9D9D9"},{"offset":0.324,"color":"#D9D9D9"},
{"offset":0.324,"color":"#000000"},{"offset":0.425,"color":"#000000"},{"offset":0.425,"color":"#D9D9D9"},{"offset":0.449,"color":"#D9D9D9"},
{"offset":0.449,"color":"#000000"},{"offset":0.55,"color":"#000000"},{"offset":0.55,"color":"#D9D9D9"},{"offset":0.574,"color":"#D9D9D9"},
{"offset":0.574,"color":"#000000"},{"offset":0.675,"color":"#000000"},{"offset":0.675,"color":"#D9D9D9"},{"offset":0.699,"color":"#D9D9D9"},
{"offset":0.699,"color":"#000000"},{"offset":0.8,"color":"#000000"},{"offset":0.8,"color":"#D9D9D9"},{"offset":0.824,"color":"#D9D9D9"},
{"offset":0.824,"color":"#000000"},{"offset":0.925,"color":"#000000"},{"offset":0.925,"color":"#D9D9D9"},{"offset":0.949,"color":"#D9D9D9"},
{"offset":0.949,"color":"#000000"},{"offset":1,"color":"#000000"}
]}},
{"test":"datum.currency==='USD'","value":"#000000"},
{"test":"datum.currency==='IQD'","value":"#8DB4E2"}
],"value":"#4A8BAE"}}},
{"mark":{"type":"arc","radius":180,"strokeWidth":0},
"encoding":{"fill":{"condition":[
{"test":"datum.currency==='CNY'","value":{"gradient":"linear","x1":0,"y1":0,"x2":1,"y2":0,"stops":[
{"offset":0,"color":"#FFFFFF"},{"offset":0.05,"color":"#FFFFFF"},{"offset":0.05,"color":"rgba(255,255,255,0)"},{"offset":0.075,"color":"rgba(255,255,255,0)"},
{"offset":0.075,"color":"#FFFFFF"},{"offset":0.175,"color":"#FFFFFF"},{"offset":0.175,"color":"rgba(255,255,255,0)"},{"offset":0.2,"color":"rgba(255,255,255,0)"},
{"offset":0.2,"color":"#FFFFFF"},{"offset":0.3,"color":"#FFFFFF"},{"offset":0.3,"color":"rgba(255,255,255,0)"},{"offset":0.325,"color":"rgba(255,255,255,0)"},
{"offset":0.325,"color":"#FFFFFF"},{"offset":0.425,"color":"#FFFFFF"},{"offset":0.425,"color":"rgba(255,255,255,0)"},{"offset":0.45,"color":"rgba(255,255,255,0)"},
{"offset":0.45,"color":"#FFFFFF"},{"offset":0.55,"color":"#FFFFFF"},{"offset":0.55,"color":"rgba(255,255,255,0)"},{"offset":0.575,"color":"rgba(255,255,255,0)"},
{"offset":0.575,"color":"#FFFFFF"},{"offset":0.675,"color":"#FFFFFF"},{"offset":0.675,"color":"rgba(255,255,255,0)"},{"offset":0.7,"color":"rgba(255,255,255,0)"},
{"offset":0.7,"color":"#FFFFFF"},{"offset":0.8,"color":"#FFFFFF"},{"offset":0.8,"color":"rgba(255,255,255,0)"},{"offset":0.825,"color":"rgba(255,255,255,0)"},
{"offset":0.825,"color":"#FFFFFF"},{"offset":0.925,"color":"#FFFFFF"},{"offset":0.925,"color":"rgba(255,255,255,0)"},{"offset":0.95,"color":"rgba(255,255,255,0)"},
{"offset":0.95,"color":"#FFFFFF"},{"offset":1,"color":"#FFFFFF"}
]}},
{"test":"datum.currency==='AED'","value":{"gradient":"linear","x1":0,"y1":0,"x2":1,"y2":0,"stops":[
{"offset":0,"color":"#9BBB59"},{"offset":0.035,"color":"#9BBB59"},{"offset":0.035,"color":"rgba(155,187,89,0)"},{"offset":0.055,"color":"rgba(155,187,89,0)"},
{"offset":0.055,"color":"#9BBB59"},{"offset":0.125,"color":"#9BBB59"},{"offset":0.125,"color":"rgba(155,187,89,0)"},{"offset":0.145,"color":"rgba(155,187,89,0)"},
{"offset":0.145,"color":"#9BBB59"},{"offset":0.215,"color":"#9BBB59"},{"offset":0.215,"color":"rgba(155,187,89,0)"},{"offset":0.235,"color":"rgba(155,187,89,0)"},
{"offset":0.235,"color":"#9BBB59"},{"offset":0.305,"color":"#9BBB59"},{"offset":0.305,"color":"rgba(155,187,89,0)"},{"offset":0.325,"color":"rgba(155,187,89,0)"},
{"offset":0.325,"color":"#9BBB59"},{"offset":0.395,"color":"#9BBB59"},{"offset":0.395,"color":"rgba(155,187,89,0)"},{"offset":0.415,"color":"rgba(155,187,89,0)"},
{"offset":0.415,"color":"#9BBB59"},{"offset":0.485,"color":"#9BBB59"},{"offset":0.485,"color":"rgba(155,187,89,0)"},{"offset":0.505,"color":"rgba(155,187,89,0)"},
{"offset":0.505,"color":"#9BBB59"},{"offset":0.575,"color":"#9BBB59"},{"offset":0.575,"color":"rgba(155,187,89,0)"},{"offset":0.595,"color":"rgba(155,187,89,0)"},
{"offset":0.595,"color":"#9BBB59"},{"offset":0.665,"color":"#9BBB59"},{"offset":0.665,"color":"rgba(155,187,89,0)"},{"offset":0.685,"color":"rgba(155,187,89,0)"},
{"offset":0.685,"color":"#9BBB59"},{"offset":0.755,"color":"#9BBB59"},{"offset":0.755,"color":"rgba(155,187,89,0)"},{"offset":0.775,"color":"rgba(155,187,89,0)"},
{"offset":0.775,"color":"#9BBB59"},{"offset":0.845,"color":"#9BBB59"},{"offset":0.845,"color":"rgba(155,187,89,0)"},{"offset":0.865,"color":"rgba(155,187,89,0)"},
{"offset":0.865,"color":"#9BBB59"},{"offset":0.935,"color":"#9BBB59"},{"offset":0.935,"color":"rgba(155,187,89,0)"},{"offset":0.955,"color":"rgba(155,187,89,0)"},
{"offset":0.955,"color":"#9BBB59"},{"offset":1,"color":"#9BBB59"}
]}},
{"test":"datum.currency==='CHF'","value":{"gradient":"linear","x1":0,"y1":0,"x2":1,"y2":0,"stops":[
{"offset":0,"color":"rgba(255,255,255,0)"},{"offset":0.052,"color":"rgba(255,255,255,0)"},{"offset":0.052,"color":"#FFFFFF"},{"offset":0.062,"color":"#FFFFFF"},
{"offset":0.062,"color":"rgba(255,255,255,0)"},{"offset":0.128,"color":"rgba(255,255,255,0)"},{"offset":0.128,"color":"#FFFFFF"},{"offset":0.138,"color":"#FFFFFF"},
{"offset":0.138,"color":"rgba(255,255,255,0)"},{"offset":0.205,"color":"rgba(255,255,255,0)"},{"offset":0.205,"color":"#FFFFFF"},{"offset":0.215,"color":"#FFFFFF"},
{"offset":0.215,"color":"rgba(255,255,255,0)"},{"offset":0.282,"color":"rgba(255,255,255,0)"},{"offset":0.282,"color":"#FFFFFF"},{"offset":0.292,"color":"#FFFFFF"},
{"offset":0.292,"color":"rgba(255,255,255,0)"},{"offset":0.358,"color":"rgba(255,255,255,0)"},{"offset":0.358,"color":"#FFFFFF"},{"offset":0.368,"color":"#FFFFFF"},
{"offset":0.368,"color":"rgba(255,255,255,0)"},{"offset":0.435,"color":"rgba(255,255,255,0)"},{"offset":0.435,"color":"#FFFFFF"},{"offset":0.445,"color":"#FFFFFF"},
{"offset":0.445,"color":"rgba(255,255,255,0)"},{"offset":0.512,"color":"rgba(255,255,255,0)"},{"offset":0.512,"color":"#FFFFFF"},{"offset":0.522,"color":"#FFFFFF"},
{"offset":0.522,"color":"rgba(255,255,255,0)"},{"offset":0.589,"color":"rgba(255,255,255,0)"},{"offset":0.589,"color":"#FFFFFF"},{"offset":0.599,"color":"#FFFFFF"},
{"offset":0.599,"color":"rgba(255,255,255,0)"},{"offset":0.665,"color":"rgba(255,255,255,0)"},{"offset":0.665,"color":"#FFFFFF"},{"offset":0.675,"color":"#FFFFFF"},
{"offset":0.675,"color":"rgba(255,255,255,0)"},{"offset":0.742,"color":"rgba(255,255,255,0)"},{"offset":0.742,"color":"#FFFFFF"},{"offset":0.752,"color":"#FFFFFF"},
{"offset":0.752,"color":"rgba(255,255,255,0)"},{"offset":0.819,"color":"rgba(255,255,255,0)"},{"offset":0.819,"color":"#FFFFFF"},{"offset":0.829,"color":"#FFFFFF"},
{"offset":0.829,"color":"rgba(255,255,255,0)"},{"offset":0.896,"color":"rgba(255,255,255,0)"},{"offset":0.896,"color":"#FFFFFF"},{"offset":0.906,"color":"#FFFFFF"},
{"offset":0.906,"color":"rgba(255,255,255,0)"},{"offset":0.972,"color":"rgba(255,255,255,0)"},{"offset":0.972,"color":"#FFFFFF"},{"offset":0.982,"color":"#FFFFFF"},
{"offset":0.982,"color":"rgba(255,255,255,0)"},{"offset":1,"color":"rgba(255,255,255,0)"}
]}},
{"test":"datum.currency==='OMR'","value":{"gradient":"linear","x1":0,"y1":0,"x2":1,"y2":0,"stops":[
{"offset":0,"color":"rgba(191,191,191,0)"},{"offset":0.005,"color":"rgba(191,191,191,0)"},{"offset":0.005,"color":"#BFBFBF"},{"offset":0.016,"color":"#BFBFBF"},
{"offset":0.016,"color":"rgba(191,191,191,0)"},{"offset":0.085,"color":"rgba(191,191,191,0)"},{"offset":0.085,"color":"#BFBFBF"},{"offset":0.096,"color":"#BFBFBF"},
{"offset":0.096,"color":"rgba(191,191,191,0)"},{"offset":0.165,"color":"rgba(191,191,191,0)"},{"offset":0.165,"color":"#BFBFBF"},{"offset":0.176,"color":"#BFBFBF"},
{"offset":0.176,"color":"rgba(191,191,191,0)"},{"offset":0.245,"color":"rgba(191,191,191,0)"},{"offset":0.245,"color":"#BFBFBF"},{"offset":0.256,"color":"#BFBFBF"},
{"offset":0.256,"color":"rgba(191,191,191,0)"},{"offset":0.325,"color":"rgba(191,191,191,0)"},{"offset":0.325,"color":"#BFBFBF"},{"offset":0.336,"color":"#BFBFBF"},
{"offset":0.336,"color":"rgba(191,191,191,0)"},{"offset":0.405,"color":"rgba(191,191,191,0)"},{"offset":0.405,"color":"#BFBFBF"},{"offset":0.416,"color":"#BFBFBF"},
{"offset":0.416,"color":"rgba(191,191,191,0)"},{"offset":0.485,"color":"rgba(191,191,191,0)"},{"offset":0.485,"color":"#BFBFBF"},{"offset":0.496,"color":"#BFBFBF"},
{"offset":0.496,"color":"rgba(191,191,191,0)"},{"offset":0.565,"color":"rgba(191,191,191,0)"},{"offset":0.565,"color":"#BFBFBF"},{"offset":0.576,"color":"#BFBFBF"},
{"offset":0.576,"color":"rgba(191,191,191,0)"},{"offset":0.645,"color":"rgba(191,191,191,0)"},{"offset":0.645,"color":"#BFBFBF"},{"offset":0.656,"color":"#BFBFBF"},
{"offset":0.656,"color":"rgba(191,191,191,0)"},{"offset":0.725,"color":"rgba(191,191,191,0)"},{"offset":0.725,"color":"#BFBFBF"},{"offset":0.736,"color":"#BFBFBF"},
{"offset":0.736,"color":"rgba(191,191,191,0)"},{"offset":0.805,"color":"rgba(191,191,191,0)"},{"offset":0.805,"color":"#BFBFBF"},{"offset":0.816,"color":"#BFBFBF"},
{"offset":0.816,"color":"rgba(191,191,191,0)"},{"offset":0.885,"color":"rgba(191,191,191,0)"},{"offset":0.885,"color":"#BFBFBF"},{"offset":0.896,"color":"#BFBFBF"},
{"offset":0.896,"color":"rgba(191,191,191,0)"},{"offset":0.965,"color":"rgba(191,191,191,0)"},{"offset":0.965,"color":"#BFBFBF"},{"offset":0.976,"color":"#BFBFBF"},
{"offset":0.976,"color":"rgba(191,191,191,0)"},{"offset":1,"color":"rgba(191,191,191,0)"}
]}},
{"test":"datum.currency==='KRW'","value":{"gradient":"linear","x1":0,"y1":0,"x2":1,"y2":0,"stops":[
{"offset":0,"color":"#000000"},{"offset":0.02,"color":"#000000"},{"offset":0.02,"color":"rgba(0,0,0,0)"},{"offset":0.031,"color":"rgba(0,0,0,0)"},
{"offset":0.031,"color":"#000000"},{"offset":0.08,"color":"#000000"},{"offset":0.08,"color":"rgba(0,0,0,0)"},{"offset":0.091,"color":"rgba(0,0,0,0)"},
{"offset":0.091,"color":"#000000"},{"offset":0.14,"color":"#000000"},{"offset":0.14,"color":"rgba(0,0,0,0)"},{"offset":0.151,"color":"rgba(0,0,0,0)"},
{"offset":0.151,"color":"#000000"},{"offset":0.2,"color":"#000000"},{"offset":0.2,"color":"rgba(0,0,0,0)"},{"offset":0.211,"color":"rgba(0,0,0,0)"},
{"offset":0.211,"color":"#000000"},{"offset":0.26,"color":"#000000"},{"offset":0.26,"color":"rgba(0,0,0,0)"},{"offset":0.271,"color":"rgba(0,0,0,0)"},
{"offset":0.271,"color":"#000000"},{"offset":0.32,"color":"#000000"},{"offset":0.32,"color":"rgba(0,0,0,0)"},{"offset":0.331,"color":"rgba(0,0,0,0)"},
{"offset":0.331,"color":"#000000"},{"offset":0.38,"color":"#000000"},{"offset":0.38,"color":"rgba(0,0,0,0)"},{"offset":0.391,"color":"rgba(0,0,0,0)"},
{"offset":0.391,"color":"#000000"},{"offset":0.44,"color":"#000000"},{"offset":0.44,"color":"rgba(0,0,0,0)"},{"offset":0.451,"color":"rgba(0,0,0,0)"},
{"offset":0.451,"color":"#000000"},{"offset":0.5,"color":"#000000"},{"offset":0.5,"color":"rgba(0,0,0,0)"},{"offset":0.511,"color":"rgba(0,0,0,0)"},
{"offset":0.511,"color":"#000000"},{"offset":0.56,"color":"#000000"},{"offset":0.56,"color":"rgba(0,0,0,0)"},{"offset":0.571,"color":"rgba(0,0,0,0)"},
{"offset":0.571,"color":"#000000"},{"offset":0.62,"color":"#000000"},{"offset":0.62,"color":"rgba(0,0,0,0)"},{"offset":0.631,"color":"rgba(0,0,0,0)"},
{"offset":0.631,"color":"#000000"},{"offset":0.68,"color":"#000000"},{"offset":0.68,"color":"rgba(0,0,0,0)"},{"offset":0.691,"color":"rgba(0,0,0,0)"},
{"offset":0.691,"color":"#000000"},{"offset":0.74,"color":"#000000"},{"offset":0.74,"color":"rgba(0,0,0,0)"},{"offset":0.751,"color":"rgba(0,0,0,0)"},
{"offset":0.751,"color":"#000000"},{"offset":0.8,"color":"#000000"},{"offset":0.8,"color":"rgba(0,0,0,0)"},{"offset":0.811,"color":"rgba(0,0,0,0)"},
{"offset":0.811,"color":"#000000"},{"offset":0.86,"color":"#000000"},{"offset":0.86,"color":"rgba(0,0,0,0)"},{"offset":0.871,"color":"rgba(0,0,0,0)"},
{"offset":0.871,"color":"#000000"},{"offset":0.92,"color":"#000000"},{"offset":0.92,"color":"rgba(0,0,0,0)"},{"offset":0.931,"color":"rgba(0,0,0,0)"},
{"offset":0.931,"color":"#000000"},{"offset":0.98,"color":"#000000"},{"offset":0.98,"color":"rgba(0,0,0,0)"},{"offset":0.991,"color":"rgba(0,0,0,0)"},
{"offset":0.991,"color":"#000000"},{"offset":1,"color":"#000000"}
]}}
],"value":"transparent"}}},
{"mark":{"type":"arc","radius":180,"fill":"transparent"},
"encoding":{
"stroke":{"condition":{"test":"datum.currency==='Others'","value":"#000000"},"value":"#FFFFFF"},
"strokeWidth":{"condition":{"test":"datum.currency==='Others'","value":1.5},"value":1}
}},
{"mark":{"type":"arc","innerRadius":183,"fill":"transparent","strokeWidth":1,"padAngle":1.5,
"radius":{"expr":"[184,184,184,184,202,184,184,184,191,196,184,184,234,236][datum.idx-1]"}},
"encoding":{"stroke":{"condition":{"test":"indexof(['AED','OMR','GBP','IQD','Others'], datum.currency) >= 0","value":"#A6A6A6"},"value":"transparent"}}},
{"mark":{"type":"text","font":"Open Sans","fontSize":15,"fill":"#505050","baseline":"middle","align":"center",
"thetaOffset":{"expr":"[0.033,-0.045,-0.052,0,0.133,0.042,0,0.03,0.016,-0.035,-0.009,0.021,-0.028,-0.007][datum.idx-1]"},
"radius":{"expr":"[137,204,200,205,226,210,211,208,217,224,212,212,261,258][datum.idx-1]"},
"text":{"expr":"datum.currency + ', ' + datum.value"}}}
]
}
